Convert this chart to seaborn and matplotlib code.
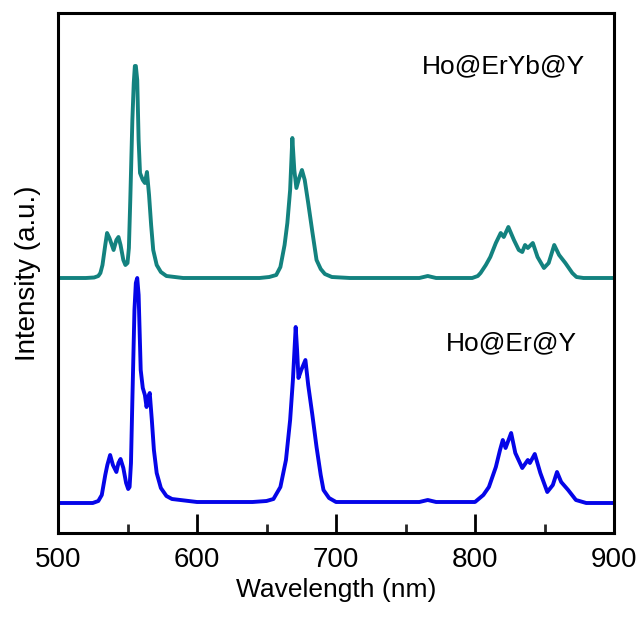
import matplotlib
matplotlib.use("Agg")
import matplotlib.pyplot as plt
import seaborn as sns
import pandas as pd
from matplotlib.ticker import MultipleLocator

sns.set_theme(style="white")
plt.rcParams['font.family'] = ['Liberation Sans', 'DejaVu Sans']

# Ho@ErYb@Y (upper, teal) — wavelength (nm) and intensity (a.u., offset included)
wl_teal = [500, 520, 526, 529, 530.5, 532, 534, 535.3, 537, 540, 542, 543.5, 545, 547, 548.5,
           550, 551, 552, 553.5, 554.5, 555.3, 556, 557, 558, 559, 561, 562.5, 564, 565.5,
           567, 568.5, 571, 574, 578, 590, 620, 645, 652, 657, 660, 663, 665, 667, 668.6,
           670, 671.5, 673.5, 675.5, 677.5, 680, 683, 686, 689, 692, 697, 710, 760, 766,
           772, 798, 802, 804, 807.8, 811, 815, 818.5, 820.7, 824, 828, 831.5, 834, 836,
           838, 841.6, 845, 849.6, 853, 857, 860.5, 865, 870, 873, 878, 900]
int_teal = [255, 255, 255.5, 257, 260, 268, 288, 300, 295, 283, 293, 296, 288, 273, 268,
            270, 285, 333, 413, 450, 467, 467, 453, 393, 360, 353, 350, 361, 338,
            308, 283, 268, 261, 257, 255, 255, 255, 256, 258, 266, 288, 310, 343, 395,
            363, 345, 355, 363, 353, 330, 301, 273, 264, 259, 256, 255, 255, 257,
            255, 255, 257, 260, 268, 276, 290, 300, 296, 306, 293, 283, 281, 288,
            285, 290, 276, 265, 270, 288, 278, 270, 260, 256, 255, 255]

# Ho@Er@Y (lower, blue)
wl_blue = [500, 525, 529, 531.5, 534, 535.5, 537.5, 539.5, 542, 543.5, 545, 547, 549,
           550.5, 551.5, 552.5, 553.5, 555, 556, 557, 558, 559.5, 561, 562.5, 563.7, 565, 566,
           567.5, 569, 571, 574, 578, 582, 600, 640, 650, 655, 660, 664, 667, 669, 671, 672,
           673, 675, 678, 680, 683, 686, 689, 691, 695, 700, 760, 766, 772, 800, 806,
           810, 815, 818, 820, 822, 826, 829, 834, 838, 839.5, 843, 847, 852, 856, 859,
           862, 867, 872.6, 880, 900]
int_blue = [30, 30, 32, 38, 58, 68, 78, 68, 61, 70, 74, 65, 50,
            44, 46, 70, 133, 223, 250, 255, 238, 163, 145, 138, 126, 136, 140,
            113, 83, 60, 45, 37, 34, 31, 31, 32, 34, 46, 73, 113, 153, 206, 183,
            155, 163, 173, 148, 118, 86, 58, 43, 35, 31, 31, 33, 31, 31, 38,
            46, 66, 83, 93, 85, 100, 80, 65, 73, 70, 79, 60, 41, 48, 61,
            51, 43, 33, 30, 30]

series_names = ["Ho@ErYb@Y", "Ho@Er@Y"]
x_ticks = [500, 600, 700, 800, 900]

teal = "#13827f"
blue = "#0505e8"

fig = plt.figure(figsize=(6.41, 6.17), dpi=100)
ax = fig.add_axes([58/641, (617-533)/617, (614-58)/641, (533-13)/617])

df_t = pd.DataFrame({"wl": wl_teal, "I": int_teal})
df_b = pd.DataFrame({"wl": wl_blue, "I": int_blue})
sns.lineplot(data=df_t, x="wl", y="I", color=teal, lw=2.8, ax=ax, estimator=None, sort=False)
sns.lineplot(data=df_b, x="wl", y="I", color=blue, lw=2.8, ax=ax, estimator=None, sort=False)

ax.set_xlim(500, 900)
ax.set_ylim(0, 520)
ax.set_xticks(x_ticks)
ax.set_xticklabels([str(t) for t in x_ticks])
ax.xaxis.set_minor_locator(MultipleLocator(50))
ax.set_yticks([])
ax.tick_params(axis='x', which='major', direction='in', length=14, width=2, pad=10,
               labelsize=20, colors='black', bottom=True)
ax.tick_params(axis='x', which='minor', direction='in', length=6.5, width=2, bottom=True)
for s in ax.spines.values():
    s.set_visible(True)
    s.set_color('black')
    s.set_linewidth(2.2)

ax.set_xlabel("Wavelength (nm)", fontsize=19, labelpad=4, color='black')
ax.set_ylabel("Intensity (a.u.)", fontsize=20, labelpad=12, color='black')

ax.text(879, 460, series_names[0], fontsize=19, ha='right', va='baseline', color='black')
ax.text(873, 183, series_names[1], fontsize=19, ha='right', va='baseline', color='black')

fig.savefig("out.png", dpi=100)
